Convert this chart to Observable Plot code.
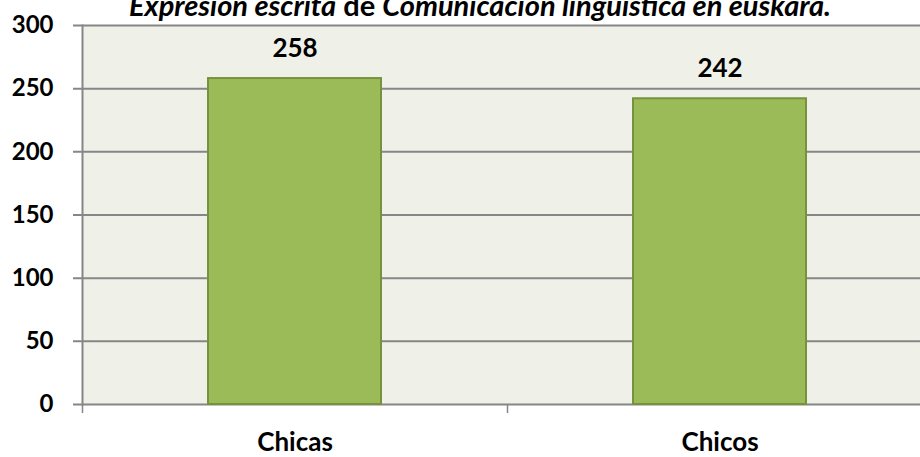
<!DOCTYPE html>
<html>
<head>
<meta charset="utf-8">
<script src="https://cdn.jsdelivr.net/npm/d3@7"></script>
<script src="https://cdn.jsdelivr.net/npm/@observablehq/plot@0.6"></script>
<style>
  html, body { margin: 0; padding: 0; background: #ffffff; overflow: hidden; }
  #wrap { position: relative; width: 920px; height: 457px; font-family: Lato, "Open Sans", sans-serif; }
  #title { position: absolute; left: 0; width: 960px; top: -9px; text-align: center; font-size: 29px; font-weight: bold; line-height: 28px; color: #000; white-space: nowrap; }
  #title i { font-style: italic; }
</style>
</head>
<body>
<div id="wrap">
  <div id="title"><i>Expresión escrita</i> de <i>Comunicación lingüística en euskara.</i></div>
</div>
<script>
const categories = ["Chicas", "Chicos"];
const values = [258, 242];
const yTicks = [0, 50, 100, 150, 200, 250, 300];

const data = categories.map((c, i) => ({category: c, value: values[i]}));

const gray = "#868686";
const xRange = [82, 932];
const step = (xRange[1] - xRange[0]) / categories.length;

const chart = Plot.plot({
  width: 920,
  height: 457,
  marginLeft: 82,
  marginRight: 0,
  marginTop: 25,
  marginBottom: 53,
  style: {fontFamily: "Lato, 'Open Sans', sans-serif", background: "transparent", overflow: "visible"},
  x: {domain: categories, range: xRange, paddingInner: 0.594, paddingOuter: 0.297, align: 0.5, label: null},
  y: {domain: [0, 300], label: null},
  marks: [
    Plot.frame({fill: "#eff1e9", stroke: "none"}),
    Plot.ruleY(yTicks, {stroke: gray, strokeWidth: 2, insetLeft: -9}),
    Plot.barY(data, {x: "category", y: "value", fill: "#9bbb59", stroke: "#76923c", strokeWidth: 2}),
    Plot.frame({anchor: "left", stroke: gray, strokeWidth: 2}),
    Plot.axisY({ticks: yTicks, tickSize: 0, tickPadding: 29, fontSize: 24, fontWeight: "bold", fill: "#000"}),
    Plot.ruleX(categories, {x: d => d, y1: 0, y2: 0, insetBottom: -9, dx: -step / 2, stroke: gray, strokeWidth: 1.5}),
    Plot.axisX({tickSize: 0, tickPadding: 28, fontSize: 26, fontWeight: "bold", fill: "#000"}),
    Plot.text(data, {x: "category", y: "value", text: d => String(d.value), dy: -30, fontSize: 26, fontWeight: "bold", fill: "#000"})
  ]
});
document.getElementById("wrap").prepend(chart);
chart.style.position = "absolute";
chart.style.left = "0";
chart.style.top = "0";
</script>
</body>
</html>
